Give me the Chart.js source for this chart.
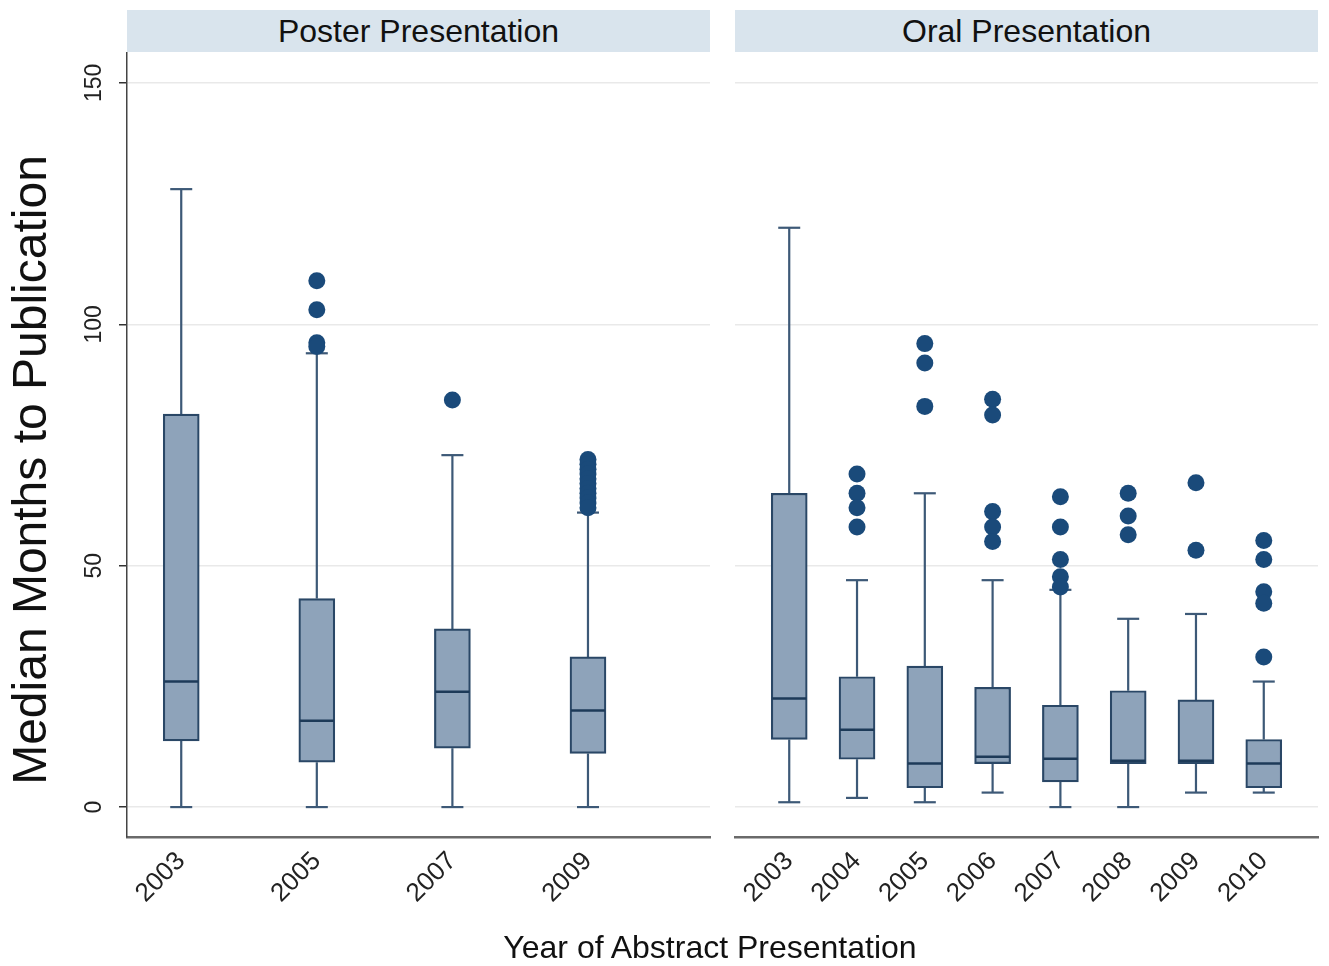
<!DOCTYPE html>
<html><head><meta charset="utf-8">
<script src="https://cdn.jsdelivr.net/npm/chart.js@4/dist/chart.umd.min.js"></script>
<style>
body{margin:0;background:#fff;width:1329px;height:966px;position:relative;overflow:hidden;font-family:"Liberation Sans",Arial,sans-serif;color:#111;}
.hdr{position:absolute;top:10px;height:42px;background:#d9e4ed;font-size:32px;line-height:42px;text-align:center;}
canvas{position:absolute;top:0;}
#ytitle{position:absolute;left:-370px;top:440px;width:800px;height:60px;line-height:60px;font-size:48px;text-align:center;transform:rotate(-90deg);}
#xtitle{position:absolute;left:410px;top:928px;width:600px;height:38px;line-height:38px;font-size:32px;text-align:center;}
</style></head>
<body>
<div class="hdr" style="left:127px;width:583px;">Poster Presentation</div>
<div class="hdr" style="left:735px;width:583px;">Oral Presentation</div>
<canvas id="c1" width="712" height="966" style="left:0;"></canvas>
<canvas id="c2" width="604" height="966" style="left:725px;"></canvas>
<div id="ytitle">Median Months to Publication</div>
<div id="xtitle">Year of Abstract Presentation</div>
<script>
// ---- data ----
const yTicks = [0, 50, 100, 150];

const posterYears = [2003, 2005, 2007, 2009];
const posterLowerWhisker = [0, 0, 0, 0];
const posterQ1 = [13.7, 9.3, 12.2, 11.1];
const posterMedian = [26.0, 17.9, 23.9, 20.0];
const posterQ3 = [81.4, 43.2, 36.9, 31.1];
const posterUpperWhisker = [128, 94, 72.9, 61];
const posterOutliers = [[], [109, 103, 96.2, 95.4], [84.3], [72, 71, 70, 69, 68, 67, 66, 65, 64, 63, 62]];

const oralYears = [2003, 2004, 2005, 2006, 2007, 2008, 2009, 2010];
const oralLowerWhisker = [1.0, 1.9, 1.0, 3.0, 0, 0, 3.0, 3.0];
const oralQ1 = [14.0, 9.9, 4.0, 9.0, 5.2, 9.0, 9.0, 4.0];
const oralMedian = [22.5, 16.0, 9.0, 10.4, 10.0, 9.6, 9.6, 9.0];
const oralQ3 = [65.0, 27.0, 29.2, 24.8, 21.1, 24.1, 22.2, 14.0];
const oralUpperWhisker = [120, 47, 65, 47, 45, 39, 40, 26];
const oralOutliers = [[], [69, 65, 62, 58], [96, 92, 83], [84.5, 81.2, 61.2, 58, 55], [64.3, 58, 51.3, 47.7, 45.6], [65, 60.3, 56.4], [67.2, 53.2], [55.2, 51.3, 44.6, 42.2, 31.1]];

// ---- styles ----
const boxFill = '#8ea3ba', boxEdge = '#2a4766', whiskerCol = '#3d5977', medianCol = '#1d3a58', outlierCol = '#1a4a7a';
const FONT = '"Liberation Sans", Arial, sans-serif';

function buildDatasets(years, lo, q1, med, q3, hi, outl) {
  const boxes = years.map((x, i) => ({x, y: [q1[i], q3[i]]}));
  const whisk = [];
  years.forEach((x, i) => {
    whisk.push({x, y: lo[i]}, {x, y: q1[i]}, {x, y: null}, {x, y: q3[i]}, {x, y: hi[i]}, {x, y: null});
  });
  const caps = [];
  years.forEach((x, i) => { caps.push({x, y: lo[i]}, {x, y: hi[i]}); });
  const meds = years.map((x, i) => ({x, y: med[i]}));
  const outs = [];
  years.forEach((x, i) => outl[i].forEach(v => outs.push({x, y: v})));
  return [
    {type: 'bar', data: boxes, backgroundColor: boxFill, borderColor: boxEdge, borderWidth: 2.2, borderSkipped: false, barThickness: 36, order: 2},
    {type: 'line', data: whisk, borderColor: whiskerCol, borderWidth: 2.2, pointRadius: 0, spanGaps: false, fill: false, tension: 0, order: 3},
    {type: 'scatter', data: caps, pointStyle: 'line', pointRadius: 11, borderColor: whiskerCol, backgroundColor: whiskerCol, borderWidth: 2.2, order: 3},
    {type: 'scatter', data: meds, pointStyle: 'line', pointRadius: 17, borderColor: medianCol, backgroundColor: medianCol, borderWidth: 2.5, order: 0},
    {type: 'scatter', data: outs, pointRadius: 8.5, backgroundColor: outlierCol, borderColor: outlierCol, borderWidth: 0, order: 1}
  ];
}

function makeChart(id, years, datasets, showY, padding) {
  return new Chart(document.getElementById(id), {
    type: 'bar',
    data: {datasets},
    options: {
      responsive: false, animation: false, events: [],
      layout: {padding, autoPadding: false},
      plugins: {legend: {display: false}, tooltip: {enabled: false}},
      scales: {
        x: {
          type: 'linear', min: 2002.2, max: 2010.8, offset: false,
          afterBuildTicks: s => { s.ticks = years.map(v => ({value: v})); },
          ticks: {callback: v => String(v), minRotation: 45, maxRotation: 45, autoSkip: false,
                  font: {family: FONT, size: 26}, color: '#222', padding: 9},
          grid: {display: false, drawTicks: false, offset: false},
          border: {display: true, color: '#6a6a6a', width: 2.5},
          afterFit: s => { s.height = 129; s.paddingLeft = 0; s.paddingRight = 0; }
        },
        y: {
          min: -6.2, max: 156.2,
          afterBuildTicks: s => { s.ticks = yTicks.map(v => ({value: v})); },
          ticks: {display: showY, minRotation: 90, maxRotation: 90, crossAlign: 'center', padding: 5,
                  font: {family: FONT, size: 23}, color: '#222'},
          grid: {color: '#e9e9e9', lineWidth: 1.5, drawTicks: showY, tickLength: 8, tickColor: '#333', tickWidth: 1.5},
          border: {display: showY, color: '#444', width: 1.5},
          afterFit: s => { s.width = showY ? 127 : 0; s.paddingTop = 0; s.paddingBottom = 0; }
        }
      }
    }
  });
}

makeChart('c1', posterYears,
  buildDatasets(posterYears, posterLowerWhisker, posterQ1, posterMedian, posterQ3, posterUpperWhisker, posterOutliers),
  true, {top: 53, right: 2, left: 0, bottom: 0});
makeChart('c2', oralYears,
  buildDatasets(oralYears, oralLowerWhisker, oralQ1, oralMedian, oralQ3, oralUpperWhisker, oralOutliers),
  false, {top: 53, right: 11, left: 10, bottom: 0});
</script>
</body></html>
